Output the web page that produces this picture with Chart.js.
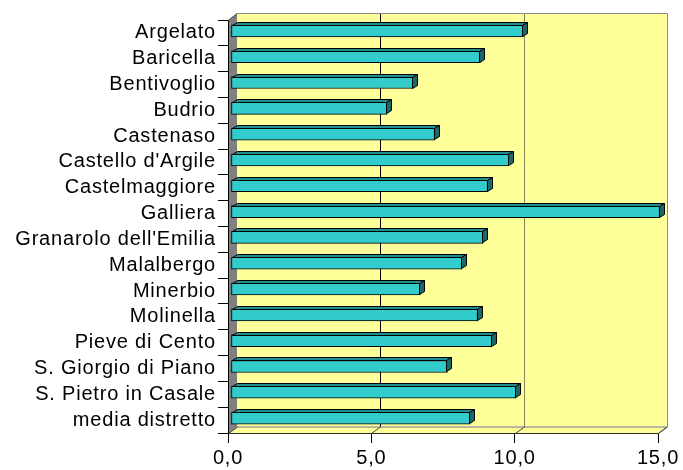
<!DOCTYPE html>
<html>
<head>
<meta charset="utf-8">
<script src="https://cdn.jsdelivr.net/npm/chart.js@4/dist/chart.umd.min.js"></script>
<style>
  html, body { margin: 0; padding: 0; background: #ffffff; }
  canvas { display: block; }
</style>
</head>
<body>
<canvas id="c" width="683" height="470"></canvas>
<script>
// Comuni del distretto
const comuni = [
  "Argelato", "Baricella", "Bentivoglio", "Budrio", "Castenaso",
  "Castello d'Argile", "Castelmaggiore", "Galliera", "Granarolo dell'Emilia",
  "Malalbergo", "Minerbio", "Molinella", "Pieve di Cento",
  "S. Giorgio di Piano", "S. Pietro in Casale", "media distretto"
];

// Valore per comune
const valori = [
  10.2, 8.7, 6.35, 5.45, 7.1,
  9.7, 8.95, 14.95, 8.8,
  8.05, 6.6, 8.6, 9.1,
  7.55, 9.95, 8.35
];

// Scala dell'asse dei valori
const asseMin = 0;
const asseMax = 15;
const asseStep = 5;

// Profondità della scena 3D (pareti) e delle barre
const WALL = { dx: 9, dy: -7 };
const BAR = { sx: 3, sy: -2, dx: 5, dy: -3 };

const fmt = v => Number(v).toFixed(1).replace('.', ',');

const depth3d = {
  id: 'depth3d',
  beforeDraw(chart) {
    chart.ctx.letterSpacing = '0.8px';
  },
  beforeDatasetsDraw(chart) {
    const { ctx, chartArea: a, scales: { x } } = chart;
    const L = a.left, R = a.right, T = a.top, B = a.bottom;
    const dx = WALL.dx, dy = WALL.dy;
    ctx.save();
    // parete di fondo
    ctx.fillStyle = '#FFFF99';
    ctx.fillRect(L + dx, T + dy, R - L, B - T);
    // linee della griglia sulla parete di fondo
    ctx.lineWidth = 1;
    x.ticks.forEach(t => {
      if (t.value === asseMin || t.value === asseMax) return;
      const px = Math.round(x.getPixelForValue(t.value) + dx) + 0.5;
      ctx.strokeStyle = t.value === 5 ? '#000000' : '#86865a';
      ctx.beginPath();
      ctx.moveTo(px, T + dy);
      ctx.lineTo(px, B + dy + 1);
      ctx.stroke();
    });
    // bordo superiore e destro della parete
    ctx.strokeStyle = '#8c8c8c';
    ctx.beginPath();
    ctx.moveTo(L + dx + 0.5, T + dy + 0.5);
    ctx.lineTo(R + dx + 0.5, T + dy + 0.5);
    ctx.lineTo(R + dx + 0.5, B + dy + 1);
    ctx.stroke();
    // pavimento
    ctx.fillStyle = '#FFFF99';
    ctx.beginPath();
    ctx.moveTo(L, B + 0.5);
    ctx.lineTo(L + dx, B + dy + 1);
    ctx.lineTo(R + dx, B + dy + 1);
    ctx.lineTo(R, B + 0.5);
    ctx.closePath();
    ctx.fill();
    ctx.strokeStyle = '#707070';
    ctx.stroke();
    ctx.strokeStyle = '#404040';
    x.ticks.forEach(t => {
      const px = Math.round(x.getPixelForValue(t.value)) + 0.5;
      ctx.beginPath();
      ctx.moveTo(px, B + 0.5);
      ctx.lineTo(px + dx, B + dy + 1);
      ctx.stroke();
    });
    ctx.strokeStyle = '#303030';
    ctx.beginPath();
    ctx.moveTo(L, B + 0.5);
    ctx.lineTo(R, B + 0.5);
    ctx.stroke();
    // parete laterale sinistra
    ctx.fillStyle = '#808080';
    ctx.beginPath();
    ctx.moveTo(L, T);
    ctx.lineTo(L + dx, T + dy);
    ctx.lineTo(L + dx, B + dy + 1);
    ctx.lineTo(L, B);
    ctx.closePath();
    ctx.fill();
    ctx.strokeStyle = '#000000';
    ctx.beginPath();
    ctx.moveTo(L + 0.5, T);
    ctx.lineTo(L + 0.5, B + 1);
    ctx.stroke();
    ctx.strokeStyle = '#505050';
    ctx.beginPath();
    ctx.moveTo(L + 0.5, T + 0.5);
    ctx.lineTo(L + dx + 0.5, T + dy + 0.5);
    ctx.stroke();
    ctx.restore();
    // barre spostate in profondità
    ctx.save();
    ctx.translate(BAR.sx, BAR.sy);
  },
  afterDatasetsDraw(chart) {
    const ctx = chart.ctx;
    const meta = chart.getDatasetMeta(0);
    ctx.lineWidth = 1;
    ctx.strokeStyle = '#000000';
    meta.data.forEach(el => {
      const p = el.getProps(['x', 'y', 'base', 'height'], true);
      const left = Math.round(p.base) + 0.5;
      const right = Math.round(p.x) - 0.5;
      const top = Math.round(p.y - p.height / 2) + 0.5;
      const bottom = Math.round(p.y + p.height / 2) - 0.5;
      // faccia superiore
      ctx.fillStyle = '#1f8f8f';
      ctx.beginPath();
      ctx.moveTo(left, top);
      ctx.lineTo(left + BAR.dx, top + BAR.dy);
      ctx.lineTo(right + BAR.dx, top + BAR.dy);
      ctx.lineTo(right, top);
      ctx.closePath();
      ctx.fill();
      ctx.stroke();
      // faccia laterale
      ctx.fillStyle = '#1a6868';
      ctx.beginPath();
      ctx.moveTo(right, top);
      ctx.lineTo(right + BAR.dx, top + BAR.dy);
      ctx.lineTo(right + BAR.dx, bottom + BAR.dy);
      ctx.lineTo(right, bottom);
      ctx.closePath();
      ctx.fill();
      ctx.stroke();
    });
    ctx.restore();
  }
};

new Chart(document.getElementById('c'), {
  type: 'bar',
  data: {
    labels: comuni,
    datasets: [{
      data: valori,
      backgroundColor: '#33CCCC',
      borderColor: '#000000',
      borderWidth: 1,
      borderSkipped: false,
      barThickness: 12,
      clip: false
    }]
  },
  options: {
    indexAxis: 'y',
    responsive: false,
    animation: false,
    devicePixelRatio: 1,
    layout: { padding: { top: 20, right: 25, bottom: 0, left: 0 } },
    plugins: {
      legend: { display: false },
      tooltip: { enabled: false }
    },
    scales: {
      x: {
        type: 'linear',
        min: asseMin,
        max: asseMax,
        afterFit(s) { s.height = 37; },
        ticks: {
          stepSize: asseStep,
          callback: v => fmt(v),
          color: '#000000',
          font: { family: 'Liberation Sans, Arial, sans-serif', size: 20 },
          padding: 3,
          maxRotation: 0
        },
        grid: {
          drawOnChartArea: false,
          drawTicks: true,
          tickLength: 10,
          color: '#000000'
        },
        border: { display: false }
      },
      y: {
        type: 'category',
        afterFit(s) { s.width = 228; },
        ticks: {
          color: '#000000',
          font: { family: 'Liberation Sans, Arial, sans-serif', size: 20 },
          padding: 2,
          autoSkip: false
        },
        grid: {
          drawOnChartArea: false,
          drawTicks: true,
          tickLength: 10,
          offset: true,
          color: '#000000'
        },
        border: { display: false }
      }
    }
  },
  plugins: [depth3d]
});
</script>
</body>
</html>
